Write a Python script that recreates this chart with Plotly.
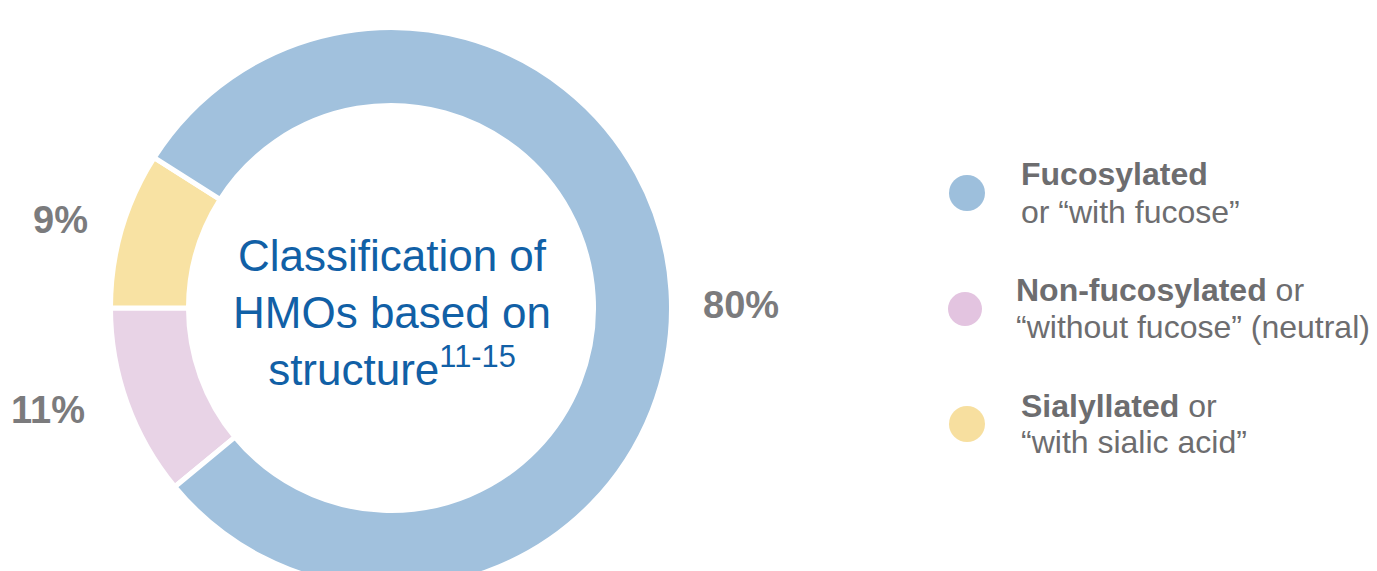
import plotly.graph_objects as go

# ---- data ----
categories = ["Non-fucosylated", "Sialyllated", "Fucosylated"]
values = [11, 9, 80]
slice_colors = ["#e8d3e6", "#f8e2a3", "#a1c1dd"]

legend_bold = ["Fucosylated", "Non-fucosylated", "Sialyllated"]
legend_rest_1 = ["", " or", " or"]
legend_line_2 = ["or \u201cwith fucose\u201d", "\u201cwithout fucose\u201d (neutral)", "\u201cwith sialic acid\u201d"]
legend_colors = ["#9dbfdc", "#e3c4e0", "#f7df9f"]

center_lines = ["Classification of", "HMOs based on", "structure<sup>11-15</sup>"]

W, H = 1377, 600
FONT = "Arial, Liberation Sans, sans-serif"


def px(x):
    return x / W


def py(y):
    return 1 - y / H


cx, cy, R = 391, 308, 280.5
fig = go.Figure()
fig.add_trace(go.Pie(
    labels=categories,
    values=values,
    sort=False,
    direction="clockwise",
    rotation=230.4,
    hole=0.722,
    marker=dict(colors=slice_colors, line=dict(color="white", width=5)),
    textinfo="none",
    hoverinfo="label+percent",
    showlegend=False,
    domain=dict(x=[px(cx - R), px(cx + R)], y=[py(cy + R), py(cy - R)]),
))

annotations = []
# percentage labels (values order: pink, yellow, blue)
pct_pos = [(48, 410), (60, 220), (741, 305)]
for v, (x, y) in zip(values, pct_pos):
    annotations.append(dict(
        x=px(x), y=py(y), xref="paper", yref="paper", xanchor="center", yanchor="middle",
        text=f"<b>{v}%</b>", showarrow=False,
        font=dict(family=FONT, size=38, color="#7b7b7d"),
    ))

# center text
annotations.append(dict(
    x=px(392), y=py(312), xref="paper", yref="paper", xanchor="center", yanchor="middle",
    text="<br>".join(center_lines), showarrow=False, borderpad=0, align="center",
    font=dict(family=FONT, size=44, color="#1160a6"),
))

# legend
legend_circles = [(967, 193, 18), (965, 309, 17), (967, 424, 18)]
legend_text_x = [1019, 1014, 1019]
legend_y1 = [174, 290, 406]
legend_y2 = [212, 327, 442]
shapes = []
for i in range(3):
    x, y, r = legend_circles[i]
    shapes.append(dict(
        type="circle", xref="paper", yref="paper",
        x0=px(x - r), x1=px(x + r), y0=py(y + r), y1=py(y - r),
        fillcolor=legend_colors[i], line=dict(width=0),
    ))
    annotations.append(dict(
        x=px(legend_text_x[i]), y=py(legend_y1[i]), xref="paper", yref="paper",
        xanchor="left", yanchor="middle", showarrow=False,
        text=f"<b>{legend_bold[i]}</b>{legend_rest_1[i]}",
        font=dict(family=FONT, size=32, color="#6d6d6f"),
    ))
    annotations.append(dict(
        x=px(legend_text_x[i]), y=py(legend_y2[i]), xref="paper", yref="paper",
        xanchor="left", yanchor="middle", showarrow=False,
        text=legend_line_2[i],
        font=dict(family=FONT, size=32, color="#6d6d6f"),
    ))

fig.update_layout(
    width=W, height=H,
    margin=dict(l=0, r=0, t=0, b=0),
    paper_bgcolor="white", plot_bgcolor="white",
    annotations=annotations, shapes=shapes,
    showlegend=False,
)

fig.write_html(
    "out.html",
    post_script="document.documentElement.style.overflow='hidden';document.body.style.overflow='hidden';document.body.style.margin='0';",
)
